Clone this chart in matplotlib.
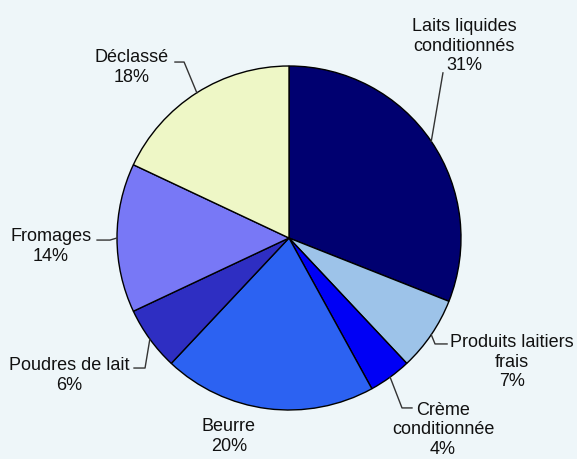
import matplotlib.pyplot as plt
import numpy as np

# data
labels = ['Laits liquides\nconditionnés', 'Produits laitiers\nfrais', 'Crème\nconditionnée',
          'Beurre', 'Poudres de lait', 'Fromages', 'Déclassé']
shares = [31, 7, 4, 20, 6, 14, 18]
colors = ['#000070', '#9DC3E9', '#0000F5', '#2C62F2', '#2E2EC2', '#7878F6', '#EEF7C6']

# label placement (data units, pie radius = 1)
label_xy = [(1.017, 1.116), (1.297, -0.721), (0.895, -1.116), (-0.349, -1.154),
            (-1.279, -0.797), (-1.384, -0.049), (-0.913, 0.991)]
# leader lines: elbow point and end point (None = no leader)
elbows = [None, (0.849, -0.616), (0.657, -0.988), None,
          (-0.837, -0.756), (-1.041, -0.012), (-0.610, 1.023)]
ends = [(0.895, 0.96), (0.919, -0.616), (0.715, -0.988), None,
        (-0.901, -0.756), (-1.116, -0.012), (-0.663, 1.023)]

bg = '#EEF6F9'
fig = plt.figure(figsize=(5.77, 4.59), dpi=100, facecolor=bg)
ax = fig.add_axes([0, 0, 1, 1])
ax.set_facecolor(bg)

wedges, _ = ax.pie(shares, colors=colors, startangle=90, counterclock=False,
                   radius=1.0, wedgeprops=dict(edgecolor='black', linewidth=1.0))

ax.set_xlim(-289 / 172, 288 / 172)
ax.set_ylim(-221 / 172, 238 / 172)
ax.set_aspect('equal')
ax.axis('off')

for w, lab, val, xy, el, en in zip(wedges, labels, shares, label_xy, elbows, ends):
    ax.text(xy[0], xy[1], f'{lab}\n{val}%', ha='center', va='center',
            fontsize=13, family='Liberation Sans', color='#111111', linespacing=1.22)
    if en is None:
        continue
    mid = np.deg2rad((w.theta1 + w.theta2) / 2)
    start = (np.cos(mid), np.sin(mid))
    pts = [start] + ([el] if el is not None else []) + [en]
    xs, ys = zip(*pts)
    ax.plot(xs, ys, color='#333333', lw=1.0)

fig.savefig('out.png', dpi=100, facecolor=bg)
